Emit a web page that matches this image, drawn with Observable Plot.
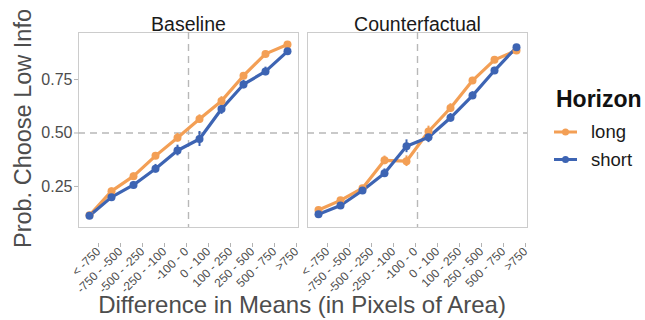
<!DOCTYPE html>
<html><head><meta charset="utf-8">
<script src="https://cdn.jsdelivr.net/npm/d3@7"></script>
<script src="https://cdn.jsdelivr.net/npm/@observablehq/plot@0.6"></script>
<style>
body{margin:0;background:#fff;}
#wrap{position:relative;width:645px;height:320px;font-family:"Liberation Sans",Arial,sans-serif;}
#wrap svg{position:absolute;left:0;top:0;}
</style></head><body><div id="wrap"></div>
<script>
const panels = ["Baseline", "Counterfactual"];
const horizons = ["long", "short"];
const bins = ["< -750", "-750 - -500", "-500 - -250", "-250 - -100", "-100 - 0", "0 - 100", "100 - 250", "250 - 500", "500 - 750", ">750"];
const yTicks = [0.25, 0.5, 0.75];

const baselineLong  = [0.115, 0.228, 0.298, 0.393, 0.478, 0.565, 0.650, 0.768, 0.870, 0.914];
const baselineShort = [0.113, 0.200, 0.257, 0.333, 0.418, 0.472, 0.612, 0.727, 0.788, 0.882];
const counterLong   = [0.140, 0.185, 0.242, 0.372, 0.368, 0.507, 0.617, 0.745, 0.842, 0.886];
const counterShort  = [0.120, 0.161, 0.231, 0.312, 0.438, 0.480, 0.571, 0.675, 0.792, 0.901];

const baselineLongErr  = [0.010, 0.015, 0.015, 0.016, 0.020, 0.020, 0.020, 0.015, 0.012, 0.010];
const baselineShortErr = [0.010, 0.015, 0.015, 0.020, 0.025, 0.035, 0.025, 0.020, 0.020, 0.010];
const counterLongErr   = [0.010, 0.012, 0.012, 0.020, 0.025, 0.025, 0.020, 0.015, 0.012, 0.010];
const counterShortErr  = [0.010, 0.012, 0.015, 0.020, 0.030, 0.025, 0.020, 0.018, 0.015, 0.010];

const colors = ["#F39F55", "#3D64B3"];

const series = [
  {panel: "Baseline", horizon: "long", vals: baselineLong, err: baselineLongErr},
  {panel: "Counterfactual", horizon: "long", vals: counterLong, err: counterLongErr},
  {panel: "Baseline", horizon: "short", vals: baselineShort, err: baselineShortErr},
  {panel: "Counterfactual", horizon: "short", vals: counterShort, err: counterShortErr}
];
const rows = [];
for (const s of series) {
  s.vals.forEach((p, i) => rows.push({panel: s.panel, horizon: s.horizon, xi: i + 1, bin: bins[i], p, lo: p - s.err[i], hi: p + s.err[i]}));
}

const font = "Liberation Sans, Arial, sans-serif";
const chart = Plot.plot({
  width: 645, height: 320,
  marginLeft: 77, marginRight: 117, marginTop: 32, marginBottom: 93,
  style: {fontFamily: font, background: "transparent"},
  fx: {domain: panels, paddingInner: 0.039, paddingOuter: 0, label: null},
  x: {domain: [0.5, 10.5]},
  y: {domain: [0.058, 0.97]},
  color: {domain: horizons, range: colors},
  marks: [
    Plot.frame({stroke: "#cccccc", strokeWidth: 1}),
    Plot.ruleY([0.5], {stroke: "#b8b8b8", strokeWidth: 1.4, strokeDasharray: "7,5"}),
    Plot.ruleX([5.5], {stroke: "#b8b8b8", strokeWidth: 1.4, strokeDasharray: "7,5"}),
    Plot.line(rows, {fx: "panel", x: "xi", y: "p", z: "horizon", stroke: "horizon", strokeWidth: 3.2}),
    Plot.ruleX(rows, {fx: "panel", x: "xi", y1: "lo", y2: "hi", stroke: "horizon", strokeWidth: 2}),
    Plot.dot(rows, {fx: "panel", x: "xi", y: "p", fill: "horizon", r: 4}),
    Plot.axisFx({anchor: "top", tickSize: 0, tickPadding: 1.5, label: null, fontSize: 19.5, fill: "#1a1a1a"}),
    Plot.axisY({ticks: yTicks, tickFormat: d3.format(".2f"), fontSize: 16, tickSize: 4, tickPadding: 2, stroke: "#b3b3b3", fill: "#4d4d4d", label: null}),
    Plot.axisX({ticks: d3.range(1, 11), tickFormat: i => bins[i - 1], tickRotate: -45, fontSize: 12, tickSize: 4, tickPadding: 2, stroke: "#b3b3b3", fill: "#4d4d4d", label: null, dx: 9, dy: 16})
  ]
});
const wrap = document.getElementById("wrap");
wrap.appendChild(chart);

// titles & legend overlay
const svg = d3.select(wrap).append("svg").attr("width", 645).attr("height", 320).style("font-family", font);
svg.append("text").attr("x", 302).attr("y", 313).attr("text-anchor", "middle")
  .attr("font-size", 24).attr("fill", "#4d4d4d").text("Difference in Means (in Pixels of Area)");
svg.append("text").attr("transform", "translate(31,128.5) rotate(-90)").attr("text-anchor", "middle")
  .attr("font-size", 23.5).attr("fill", "#4d4d4d").text("Prob. Choose Low Info");
svg.append("text").attr("x", 556).attr("y", 107).attr("font-size", 23).attr("font-weight", "bold")
  .attr("fill", "#111").text("Horizon");
const legY = [132, 159.5];
horizons.forEach((h, i) => {
  const g = svg.append("g");
  g.append("line").attr("x1", 554).attr("x2", 577).attr("y1", legY[i]).attr("y2", legY[i])
    .attr("stroke", colors[i]).attr("stroke-width", 3);
  g.append("circle").attr("cx", 565.5).attr("cy", legY[i]).attr("r", 3.5).attr("fill", colors[i]);
  g.append("text").attr("x", 591).attr("y", legY[i] + 6).attr("font-size", 18.5).attr("fill", "#1a1a1a").text(h);
});
</script></body></html>
